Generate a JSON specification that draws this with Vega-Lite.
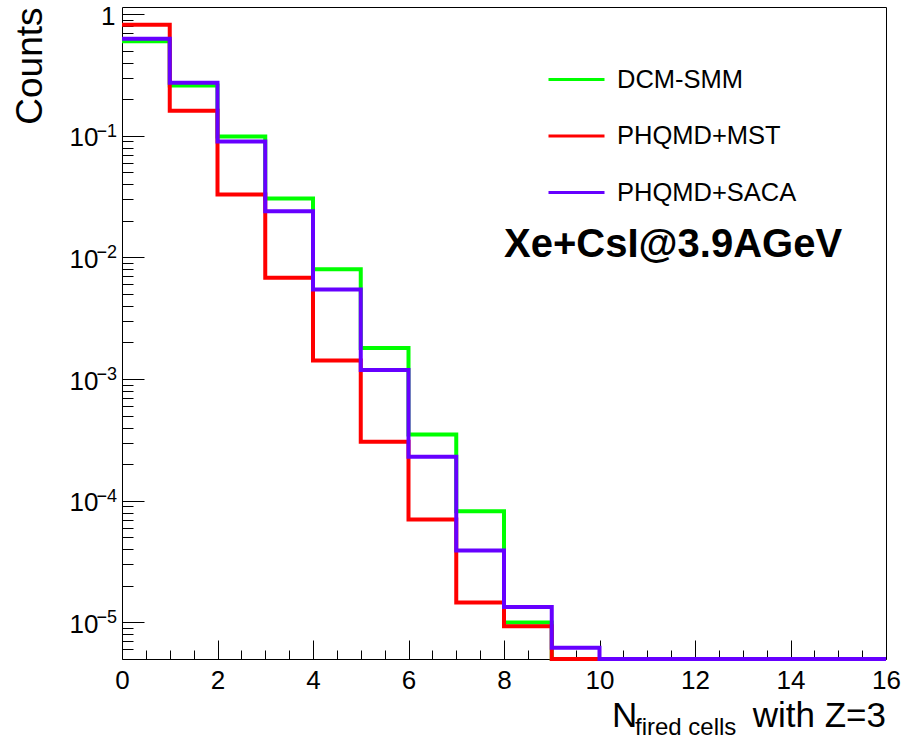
{
  "$schema": "https://vega.github.io/schema/vega-lite/v6.json",
  "width": 764,
  "height": 652,
  "autosize": {"type": "none"},
  "padding": {"left": 122, "top": 7, "right": 19, "bottom": 85},
  "background": "white",
  "config": {
    "view": {"stroke": "#000", "strokeWidth": 1},
    "font": "Liberation Sans",
    "axis": {"grid": false, "domain": false, "tickColor": "#000", "tickWidth": 1, "labelColor": "#000", "titleColor": "#000", "labelFont": "Liberation Sans", "titleFont": "Liberation Sans", "labelFlush": false, "labelOverlap": false}
  },
  "datasets": {
    "hist": [
      {"model": "DCM-SMM", "bin": 0, "counts": 0.60},
      {"model": "DCM-SMM", "bin": 1, "counts": 0.259},
      {"model": "DCM-SMM", "bin": 2, "counts": 0.0988},
      {"model": "DCM-SMM", "bin": 3, "counts": 0.0305},
      {"model": "DCM-SMM", "bin": 4, "counts": 0.0080},
      {"model": "DCM-SMM", "bin": 5, "counts": 0.0018},
      {"model": "DCM-SMM", "bin": 6, "counts": 0.00035},
      {"model": "DCM-SMM", "bin": 7, "counts": 0.000082},
      {"model": "DCM-SMM", "bin": 8, "counts": 0.0000100},
      {"model": "DCM-SMM", "bin": 9, "counts": 0.000005},
      {"model": "DCM-SMM", "bin": 10, "counts": 0.000005},
      {"model": "DCM-SMM", "bin": 11, "counts": 0.000005},
      {"model": "DCM-SMM", "bin": 12, "counts": 0.000005},
      {"model": "DCM-SMM", "bin": 13, "counts": 0.000005},
      {"model": "DCM-SMM", "bin": 14, "counts": 0.000005},
      {"model": "DCM-SMM", "bin": 15, "counts": 0.000005},
      {"model": "DCM-SMM", "bin": 16, "counts": 0.000005},
      {"model": "PHQMD+MST", "bin": 0, "counts": 0.818},
      {"model": "PHQMD+MST", "bin": 1, "counts": 0.161},
      {"model": "PHQMD+MST", "bin": 2, "counts": 0.033},
      {"model": "PHQMD+MST", "bin": 3, "counts": 0.0068},
      {"model": "PHQMD+MST", "bin": 4, "counts": 0.00142},
      {"model": "PHQMD+MST", "bin": 5, "counts": 0.000305},
      {"model": "PHQMD+MST", "bin": 6, "counts": 0.000070},
      {"model": "PHQMD+MST", "bin": 7, "counts": 0.0000146},
      {"model": "PHQMD+MST", "bin": 8, "counts": 0.0000093},
      {"model": "PHQMD+MST", "bin": 9, "counts": 0.000005},
      {"model": "PHQMD+MST", "bin": 10, "counts": 0.000005},
      {"model": "PHQMD+MST", "bin": 11, "counts": 0.000005},
      {"model": "PHQMD+MST", "bin": 12, "counts": 0.000005},
      {"model": "PHQMD+MST", "bin": 13, "counts": 0.000005},
      {"model": "PHQMD+MST", "bin": 14, "counts": 0.000005},
      {"model": "PHQMD+MST", "bin": 15, "counts": 0.000005},
      {"model": "PHQMD+MST", "bin": 16, "counts": 0.000005},
      {"model": "PHQMD+SACA", "bin": 0, "counts": 0.628},
      {"model": "PHQMD+SACA", "bin": 1, "counts": 0.273},
      {"model": "PHQMD+SACA", "bin": 2, "counts": 0.090},
      {"model": "PHQMD+SACA", "bin": 3, "counts": 0.024},
      {"model": "PHQMD+SACA", "bin": 4, "counts": 0.00545},
      {"model": "PHQMD+SACA", "bin": 5, "counts": 0.00119},
      {"model": "PHQMD+SACA", "bin": 6, "counts": 0.00023},
      {"model": "PHQMD+SACA", "bin": 7, "counts": 0.000039},
      {"model": "PHQMD+SACA", "bin": 8, "counts": 0.0000134},
      {"model": "PHQMD+SACA", "bin": 9, "counts": 0.0000062},
      {"model": "PHQMD+SACA", "bin": 10, "counts": 0.000005},
      {"model": "PHQMD+SACA", "bin": 11, "counts": 0.000005},
      {"model": "PHQMD+SACA", "bin": 12, "counts": 0.000005},
      {"model": "PHQMD+SACA", "bin": 13, "counts": 0.000005},
      {"model": "PHQMD+SACA", "bin": 14, "counts": 0.000005},
      {"model": "PHQMD+SACA", "bin": 15, "counts": 0.000005},
      {"model": "PHQMD+SACA", "bin": 16, "counts": 0.000005}
    ],
    "one": [{}],
    "exponents": [
      {"decade": 0.1, "exp": "−1"},
      {"decade": 0.01, "exp": "−2"},
      {"decade": 0.001, "exp": "−3"},
      {"decade": 0.0001, "exp": "−4"},
      {"decade": 0.00001, "exp": "−5"}
    ]
  },
  "layer": [
    {
      "data": {"name": "hist"},
      "mark": {"type": "line", "interpolate": "step-after", "strokeWidth": 4},
      "encoding": {
        "x": {
          "field": "bin", "type": "quantitative",
          "scale": {"domain": [0, 16], "nice": false, "zero": false},
          "axis": {"orient": "bottom", "values": [0, 2, 4, 6, 8, 10, 12, 14, 16], "ticks": false, "labelFontSize": 26, "labelPadding": 8, "title": null}
        },
        "y": {
          "field": "counts", "type": "quantitative",
          "scale": {"type": "log", "domain": [0.000005, 1.146], "nice": false},
          "axis": {
            "orient": "left",
            "values": [0.00001, 0.0001, 0.001, 0.01, 0.1],
            "ticks": false, "labelFontSize": 26, "labelPadding": 24, "labelOffset": 2,
            "labelExpr": "'10'",
            "title": "Counts", "titleFontSize": 37, "titleFontWeight": "normal", "titleAnchor": "end", "titlePadding": 20
          }
        },
        "color": {
          "field": "model", "type": "nominal",
          "scale": {"domain": ["DCM-SMM", "PHQMD+MST", "PHQMD+SACA"], "range": ["#00ff00", "#ff0000", "#6600ff"]},
          "legend": {
            "orient": "none", "legendX": 425, "legendY": 43, "title": null,
            "symbolType": "stroke", "symbolSize": 3136, "symbolStrokeWidth": 3,
            "labelFontSize": 25.5, "labelFont": "Liberation Sans", "labelColor": "#000",
            "labelOffset": 11, "rowPadding": 13.5, "padding": 0, "labelLimit": 400
          }
        }
      }
    },
    {
      "data": {"name": "exponents"},
      "mark": {"type": "text", "fontSize": 18, "align": "right", "baseline": "alphabetic", "dx": -5, "dy": 1, "color": "#000"},
      "encoding": {
        "x": {"datum": 0, "type": "quantitative", "axis": null},
        "y": {"field": "decade", "type": "quantitative", "axis": null},
        "text": {"field": "exp"}
      }
    },
    {
      "data": {"name": "one"},
      "mark": {"type": "text", "text": "Xe+CsI@3.9AGeV", "fontSize": 40, "fontWeight": "bold", "align": "left", "baseline": "alphabetic", "color": "#000"},
      "encoding": {
        "x": {"datum": 8, "type": "quantitative", "axis": {"orient": "bottom", "values": [0, 2, 4, 6, 8, 10, 12, 14, 16], "tickSize": -19, "labels": false, "title": null}},
        "y": {"datum": 0.01, "type": "quantitative", "axis": {"orient": "left", "values": [0.00001, 0.0001, 0.001, 0.01, 0.1, 1], "tickSize": -22, "labels": false, "title": null}}
      }
    },
    {
      "data": {"name": "one"},
      "mark": {"type": "text", "text": "with Z=3", "fontSize": 35, "align": "right", "baseline": "alphabetic", "dy": 68, "color": "#000"},
      "encoding": {
        "x": {"datum": 16, "type": "quantitative", "axis": {"orient": "bottom", "values": [0.5, 1, 1.5, 2.5, 3, 3.5, 4.5, 5, 5.5, 6.5, 7, 7.5, 8.5, 9, 9.5, 10.5, 11, 11.5, 12.5, 13, 13.5, 14.5, 15, 15.5], "tickSize": -9, "labels": false, "title": null}},
        "y": {"datum": 0.000005, "type": "quantitative", "axis": {"orient": "left", "values": [0.000006, 0.000007, 0.000008, 0.000009, 0.00002, 0.00003, 0.00004, 0.00005, 0.00006, 0.00007, 0.00008, 0.00009, 0.0002, 0.0003, 0.0004, 0.0005, 0.0006, 0.0007, 0.0008, 0.0009, 0.002, 0.003, 0.004, 0.005, 0.006, 0.007, 0.008, 0.009, 0.02, 0.03, 0.04, 0.05, 0.06, 0.07, 0.08, 0.09, 0.2, 0.3, 0.4, 0.5, 0.6, 0.7, 0.8, 0.9], "tickSize": -11, "labels": false, "title": null}}
      }
    },
    {
      "data": {"name": "one"},
      "mark": {"type": "text", "text": "N", "fontSize": 35, "align": "left", "baseline": "alphabetic", "dx": -274, "dy": 68, "color": "#000"},
      "encoding": {
        "x": {"datum": 16, "type": "quantitative", "axis": null},
        "y": {"datum": 0.000005, "type": "quantitative", "axis": {"orient": "left", "values": [1], "ticks": false, "labelFontSize": 26, "labelPadding": 7, "labelOffset": 2, "labelExpr": "'1'", "title": null}}
      }
    },
    {
      "data": {"name": "one"},
      "mark": {"type": "text", "text": "fired cells", "fontSize": 24, "align": "left", "baseline": "alphabetic", "dx": -251, "dy": 76, "color": "#000"},
      "encoding": {
        "x": {"datum": 16, "type": "quantitative", "axis": null},
        "y": {"datum": 0.000005, "type": "quantitative", "axis": null}
      }
    }
  ],
  "resolve": {"axis": {"x": "independent", "y": "independent"}}
}
